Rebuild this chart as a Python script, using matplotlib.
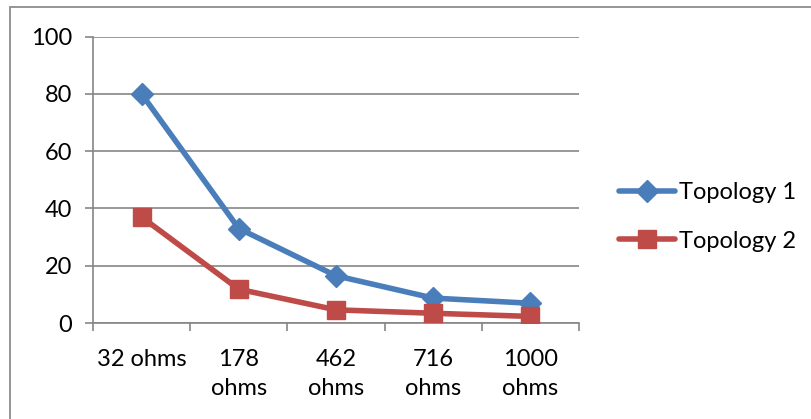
import matplotlib
matplotlib.use("Agg")
import matplotlib.pyplot as plt
from matplotlib.patches import Rectangle
import numpy as np

categories = ["32 ohms", "178\nohms", "462\nohms", "716\nohms", "1000\nohms"]
topology1 = [80, 33, 16.5, 8.7, 6.9]
topology2 = [37, 11.8, 4.6, 3.4, 2.3]
yticks = [0, 20, 40, 60, 80, 100]

W, H = 811, 419
fig = plt.figure(figsize=(W / 100, H / 100), dpi=100)
plt.rcParams["font.family"] = ["Lato", "DejaVu Sans"]
FS = 17

# outer chart border (cut off at right and bottom)
fig.patches.append(Rectangle((9.5 / W, -0.1), 1.2, 1 - 7.5 / H + 0.1,
                             transform=fig.transFigure, fill=False,
                             edgecolor="#8c8c8c", linewidth=1.3))

left, right = 93 / W, 579 / W
top, bottom = 1 - 36.7 / H, 1 - 323 / H
ax = fig.add_axes([left, bottom, right - left, top - bottom])

x = np.arange(len(categories))
ax.set_xlim(-0.5, len(categories) - 0.5)
ax.set_ylim(0, 100)

grid_c = "#868686"
for v in yticks:
    ax.axhline(v, color=grid_c, linewidth=1.2, zorder=1)

blue = "#4a7ebb"
red = "#be4b48"
ax.plot(x, topology1, color=blue, linewidth=4, marker="D", markersize=11,
        markeredgecolor=blue, label="Topology 1", zorder=3,
        solid_capstyle="round")
ax.plot(x, topology2, color=red, linewidth=4, marker="s", markersize=13.5,
        markeredgecolor=red, label="Topology 2", zorder=3,
        solid_capstyle="round")

for s in ["top", "right"]:
    ax.spines[s].set_visible(False)
ax.spines["left"].set_color(grid_c)
ax.spines["left"].set_linewidth(1.2)
ax.spines["bottom"].set_color(grid_c)
ax.spines["bottom"].set_linewidth(1.2)

ax.set_yticks(yticks)
ax.set_yticklabels([str(v) for v in yticks], fontsize=FS)
ax.tick_params(axis="y", length=6, width=1.2, color=grid_c, pad=9)

# category boundaries carry the tick marks; labels sit at the centres
ax.set_xticks(np.arange(-0.5, len(categories)), minor=False)
ax.set_xticklabels([""] * (len(categories) + 1))
ax.tick_params(axis="x", which="major", length=6, width=1.2, color=grid_c,
               direction="out")
ax.set_xticks(x, minor=True)
ax.set_xticklabels(categories, minor=True, fontsize=FS, linespacing=1.45,
                   va="top")
ax.tick_params(axis="x", which="minor", length=0, pad=19)

leg = fig.legend(loc="center left", bbox_to_anchor=(607 / W, 1 - 217 / H),
                 frameon=False, fontsize=FS, handlelength=2.4,
                 labelspacing=1.15, handletextpad=0.15, borderpad=0)

fig.savefig("out.png", dpi=100)
